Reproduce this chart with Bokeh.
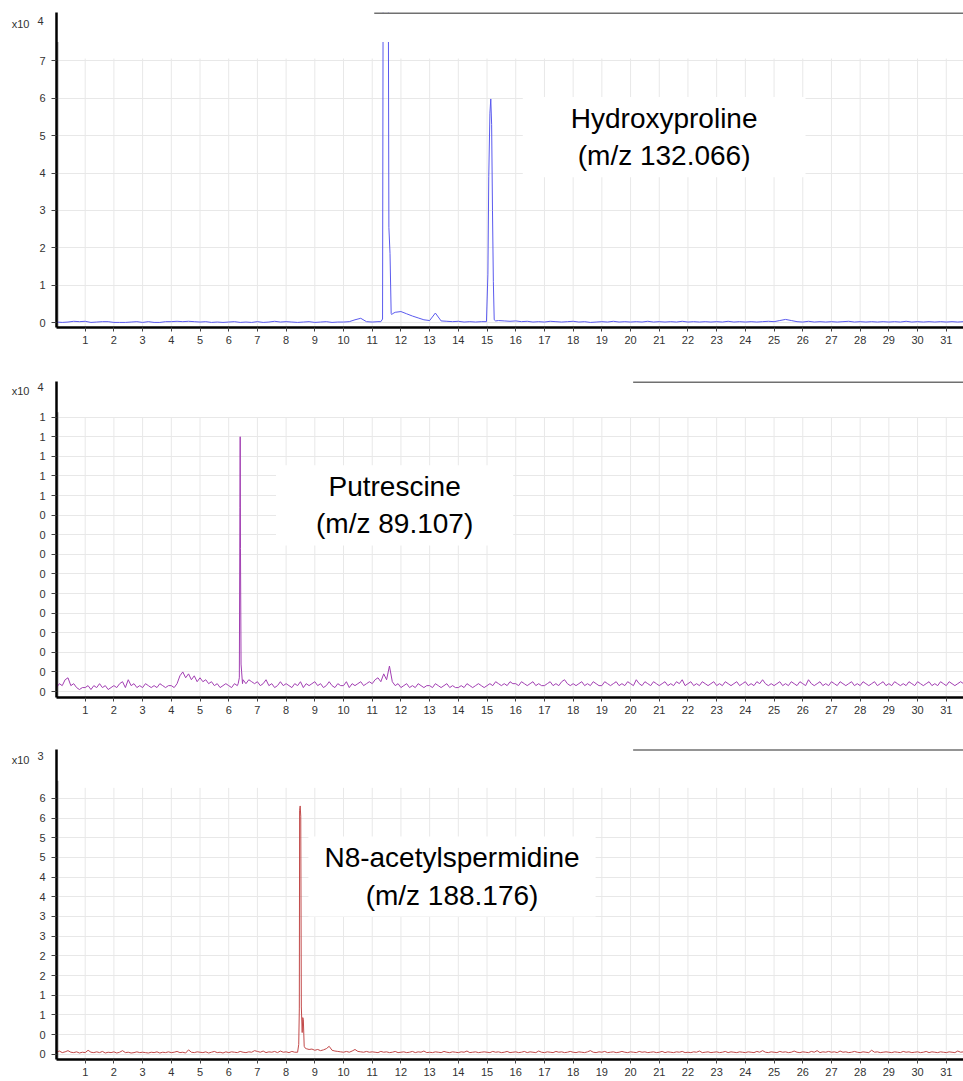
import numpy as np
from bokeh.plotting import figure
from bokeh.layouts import column
from bokeh.models import (Range1d, FixedTicker, Label, BoxAnnotation, CustomJSTickFormatter,
                          LinearAxis)
from bokeh.embed import file_html
from bokeh.resources import INLINE

FONT = "Liberation Sans"

# ---------------- data ----------------
x_ticks = list(range(1, 32))
x_tick_labels = [str(i) for i in x_ticks]

# panel 1 : Hydroxyproline (x10^4)
p1_y_ticks = [0, 1, 2, 3, 4, 5, 6, 7]
p1_y_labels = ["0", "1", "2", "3", "4", "5", "6", "7"]
p1_step = 0.2
p1_base = [
    0.02, 0.01, 0.02, 0.04, 0.03,
    0.04, 0.01, 0.02, 0.03, 0.03,
    0.01, 0.01, 0.01, 0.02, 0.03,
    0.01, 0.03, 0.01, 0.01, 0.03,
    0.03, 0.04, 0.03, 0.04, 0.03,
    0.02, 0.03, 0.01, 0.02, 0.01,
    0.02, 0.03, 0.01, 0.02, 0.01,
    0.03, 0.01, 0.02, 0.04, 0.02,
    0.03, 0.02, 0.01, 0.02, 0.03,
    0.01, 0.02, 0.03, 0.01, 0.02,
    0.02, 0.03, 0.08, 0.12, 0.03,
    0.02, 0.03, 0.03, 0.20, 0.28,
    0.30, 0.24, 0.18, 0.13, 0.08,
    0.06, 0.26, 0.05, 0.04, 0.03,
    0.04, 0.02, 0.03, 0.02, 0.03,
    0.04, 0.03, 0.06, 0.05, 0.04,
    0.05, 0.03, 0.04, 0.02, 0.03,
    0.02, 0.04, 0.03, 0.02, 0.03,
    0.04, 0.02, 0.03, 0.01, 0.02,
    0.03, 0.02, 0.04, 0.02, 0.03,
    0.02, 0.03, 0.02, 0.04, 0.02,
    0.03, 0.02, 0.03, 0.02, 0.04,
    0.02, 0.03, 0.02, 0.03, 0.02,
    0.03, 0.02, 0.04, 0.02, 0.03,
    0.02, 0.03, 0.02, 0.03, 0.04,
    0.03, 0.06, 0.09, 0.06, 0.03,
    0.02, 0.04, 0.02, 0.03, 0.02,
    0.03, 0.02, 0.03, 0.04, 0.02,
    0.03, 0.02, 0.03, 0.02, 0.03,
    0.02, 0.03, 0.02, 0.04, 0.02,
    0.03, 0.02, 0.03, 0.02, 0.03,
    0.02, 0.03, 0.02, 0.03,
]
p1_peakA_t = [11.30, 11.36, 11.38, 11.47, 11.56, 11.58, 11.62, 11.66, 11.68, 11.70]
p1_peakA_v = [0.03, 0.10, 9.0, 12.0, 9.0, 2.55, 1.85, 0.25, 0.22, 0.24]
p1_peakB_t = [14.98, 15.03, 15.06, 15.10, 15.13, 15.16, 15.19, 15.22, 15.25, 15.30]
p1_peakB_v = [0.03, 1.30, 3.90, 5.60, 5.98, 5.30, 3.00, 1.10, 0.08, 0.05]

# panel 2 : Putrescine (x10^4)
p2_y_ticks = [0.0, 0.1, 0.2, 0.3, 0.4, 0.5, 0.6, 0.7, 0.8, 0.9, 1.0, 1.1, 1.2, 1.3, 1.4]
p2_y_labels = ["0", "0", "0", "0", "0", "0", "0", "0", "0", "0", "1", "1", "1", "1", "1"]
p2_step = 0.1
p2_base = [
    0.02, 0.04, 0.03, 0.06, 0.07, 0.03, 0.04, 0.02, 0.01, 0.02,
    0.02, 0.03, 0.01, 0.03, 0.02, 0.04, 0.02, 0.03, 0.01, 0.02,
    0.03, 0.02, 0.04, 0.05, 0.02, 0.06, 0.03, 0.04, 0.02, 0.03,
    0.02, 0.04, 0.03, 0.02, 0.03, 0.02, 0.04, 0.03, 0.02, 0.03,
    0.03, 0.02, 0.04, 0.08, 0.10, 0.07, 0.09, 0.06, 0.08, 0.05,
    0.07, 0.05, 0.06, 0.04, 0.05, 0.03, 0.04, 0.02, 0.03, 0.04,
    0.03, 0.02, 0.04, 0.03, 0.05, 0.06, 0.04, 0.06, 0.05, 0.04,
    0.05, 0.03, 0.04, 0.06, 0.03, 0.04, 0.02, 0.03, 0.05, 0.03,
    0.04, 0.03, 0.02, 0.04, 0.03, 0.05, 0.02, 0.04, 0.03, 0.04,
    0.05, 0.03, 0.04, 0.02, 0.03, 0.05, 0.03, 0.02, 0.04, 0.03,
    0.03, 0.05, 0.02, 0.04, 0.03, 0.04, 0.05, 0.03, 0.04, 0.05,
    0.04, 0.06, 0.07, 0.05, 0.09, 0.06, 0.13, 0.05, 0.03, 0.04,
    0.02, 0.03, 0.04, 0.02, 0.03, 0.02, 0.04, 0.03, 0.02, 0.03,
    0.03, 0.02, 0.04, 0.03, 0.02, 0.03, 0.04, 0.02, 0.03, 0.02,
    0.02, 0.03, 0.02, 0.04, 0.03, 0.02, 0.03, 0.04, 0.03, 0.02,
    0.03, 0.04, 0.03, 0.05, 0.04, 0.03, 0.04, 0.03, 0.05, 0.04,
    0.04, 0.03, 0.05, 0.04, 0.03, 0.04, 0.05, 0.03, 0.04, 0.03,
    0.03, 0.04, 0.05, 0.03, 0.04, 0.03, 0.05, 0.06, 0.04, 0.03,
    0.04, 0.03, 0.04, 0.05, 0.03, 0.04, 0.03, 0.05, 0.04, 0.03,
    0.03, 0.05, 0.04, 0.03, 0.04, 0.05, 0.03, 0.04, 0.03, 0.05,
    0.04, 0.03, 0.06, 0.04, 0.03, 0.05, 0.04, 0.03, 0.05, 0.04,
    0.03, 0.04, 0.05, 0.03, 0.04, 0.03, 0.05, 0.04, 0.06, 0.03,
    0.04, 0.05, 0.03, 0.04, 0.03, 0.05, 0.04, 0.03, 0.04, 0.05,
    0.03, 0.04, 0.03, 0.05, 0.04, 0.03, 0.04, 0.05, 0.03, 0.04,
    0.05, 0.03, 0.04, 0.03, 0.05, 0.04, 0.06, 0.04, 0.03, 0.04,
    0.03, 0.04, 0.05, 0.03, 0.04, 0.03, 0.05, 0.04, 0.03, 0.05,
    0.04, 0.03, 0.06, 0.04, 0.03, 0.04, 0.05, 0.03, 0.04, 0.03,
    0.05, 0.04, 0.03, 0.05, 0.04, 0.03, 0.04, 0.05, 0.03, 0.04,
    0.03, 0.05, 0.04, 0.03, 0.04, 0.05, 0.03, 0.04, 0.05, 0.03,
    0.04, 0.03, 0.05, 0.04, 0.03, 0.04, 0.03, 0.05, 0.04, 0.03,
    0.05, 0.04, 0.03, 0.04, 0.05, 0.03, 0.04, 0.03, 0.05, 0.04,
    0.03, 0.05, 0.04, 0.03, 0.04, 0.05, 0.04,
]
p2_peak_t = [6.33, 6.37, 6.39, 6.40, 6.41, 6.43, 6.45, 6.48]
p2_peak_v = [0.04, 0.07, 0.94, 1.30, 0.73, 0.14, 0.10, 0.04]

# panel 3 : N8-acetylspermidine (x10^3)
p3_y_ticks = [0.0, 0.5, 1.0, 1.5, 2.0, 2.5, 3.0, 3.5, 4.0, 4.5, 5.0, 5.5, 6.0, 6.5]
p3_y_labels = ["0", "0", "1", "1", "2", "2", "3", "3", "4", "4", "5", "5", "6", "6"]
p3_step = 0.1
p3_base = [
    0.05, 0.08, 0.04, 0.06, 0.09, 0.05, 0.04, 0.06, 0.03, 0.05,
    0.04, 0.10, 0.05, 0.04, 0.06, 0.04, 0.07, 0.03, 0.05, 0.04,
    0.06, 0.03, 0.05, 0.09, 0.04, 0.05, 0.03, 0.04, 0.06, 0.04,
    0.05, 0.04, 0.03, 0.05, 0.04, 0.06, 0.03, 0.05, 0.04, 0.06,
    0.04, 0.05, 0.07, 0.04, 0.05, 0.03, 0.11, 0.05, 0.04, 0.06,
    0.05, 0.04, 0.06, 0.03, 0.05, 0.07, 0.04, 0.05, 0.03, 0.06,
    0.04, 0.06, 0.05, 0.04, 0.07, 0.05, 0.04, 0.06, 0.05, 0.09,
    0.07, 0.05, 0.08, 0.04, 0.06, 0.05, 0.07, 0.04, 0.08, 0.05,
    0.06, 0.04, 0.07, 0.05, 0.05, 0.06, 0.06, 0.14, 0.12, 0.13,
    0.10, 0.12, 0.09, 0.11, 0.14, 0.20, 0.10, 0.08, 0.07, 0.06,
    0.05, 0.07, 0.05, 0.08, 0.12, 0.07, 0.06, 0.05, 0.07, 0.05,
    0.06, 0.05, 0.04, 0.07, 0.05, 0.06, 0.04, 0.05, 0.07, 0.04,
    0.05, 0.06, 0.04, 0.05, 0.07, 0.04, 0.06, 0.05, 0.08, 0.04,
    0.05, 0.04, 0.06, 0.05, 0.04, 0.07, 0.05, 0.04, 0.06, 0.05,
    0.04, 0.06, 0.05, 0.08, 0.04, 0.05, 0.06, 0.04, 0.05, 0.06,
    0.05, 0.04, 0.07, 0.05, 0.06, 0.04, 0.05, 0.07, 0.04, 0.05,
    0.06, 0.04, 0.05, 0.07, 0.04, 0.06, 0.05, 0.04, 0.08, 0.05,
    0.04, 0.06, 0.05, 0.04, 0.07, 0.05, 0.06, 0.04, 0.05, 0.07,
    0.05, 0.04, 0.06, 0.05, 0.04, 0.06, 0.09, 0.05, 0.04, 0.06,
    0.05, 0.07, 0.04, 0.05, 0.06, 0.04, 0.05, 0.07, 0.05, 0.04,
    0.06, 0.05, 0.04, 0.07, 0.05, 0.06, 0.04, 0.05, 0.06, 0.04,
    0.05, 0.07, 0.04, 0.06, 0.05, 0.04, 0.06, 0.05, 0.07, 0.04,
    0.05, 0.04, 0.06, 0.05, 0.08, 0.04, 0.05, 0.06, 0.04, 0.05,
    0.06, 0.04, 0.05, 0.07, 0.04, 0.06, 0.05, 0.04, 0.06, 0.05,
    0.04, 0.06, 0.05, 0.04, 0.07, 0.05, 0.09, 0.05, 0.04, 0.06,
    0.05, 0.04, 0.07, 0.05, 0.06, 0.04, 0.05, 0.08, 0.05, 0.04,
    0.06, 0.05, 0.04, 0.07, 0.05, 0.09, 0.04, 0.06, 0.05, 0.07,
    0.05, 0.06, 0.04, 0.08, 0.05, 0.06, 0.04, 0.05, 0.07, 0.05,
    0.04, 0.06, 0.05, 0.04, 0.10, 0.05, 0.06, 0.04, 0.05, 0.06,
    0.05, 0.04, 0.06, 0.05, 0.04, 0.07, 0.05, 0.06, 0.04, 0.05,
    0.06, 0.04, 0.05, 0.07, 0.04, 0.06, 0.05, 0.04, 0.06, 0.05,
    0.04, 0.06, 0.05, 0.04, 0.08, 0.05, 0.06,
]
p3_peak_t = [8.40, 8.44, 8.46, 8.47, 8.49, 8.51, 8.53, 8.56, 8.58, 8.60, 8.63, 8.67]
p3_peak_v = [0.05, 0.25, 1.15, 6.20, 6.31, 6.05, 1.20, 0.55, 0.93, 0.88, 0.20, 0.15]

compounds = ["Hydroxyproline\n(m/z 132.066)", "Putrescine\n(m/z 89.107)", "N8-acetylspermidine\n(m/z 188.176)"]
exp_base = "x10"
exponents = ["4", "4", "3"]
colors = ["#5a5aee", "#a23fb2", "#c24a4a"]


def build_trace(step, base, peaks):
    t = np.round(np.arange(len(base)) * step, 3)
    v = np.asarray(base, dtype=float)
    keep = np.ones(len(t), dtype=bool)
    for pt, _ in peaks:
        keep &= (t < pt[0]) | (t > pt[-1])
    T = np.concatenate([t[keep]] + [np.asarray(pt, float) for pt, _ in peaks])
    V = np.concatenate([v[keep]] + [np.asarray(pv, float) for _, pv in peaks])
    order = np.argsort(T, kind="stable")
    return T[order], V[order]


X_END = 31.6


def text_axis(p, y, text, standoff):
    ax = LinearAxis(ticker=FixedTicker(ticks=[y]),
                    formatter=CustomJSTickFormatter(args=dict(t=text), code="return t;"),
                    axis_line_color=None, major_tick_line_color=None,
                    minor_tick_line_color=None, major_tick_in=0, major_tick_out=0,
                    major_label_standoff=standoff, major_label_text_font=FONT,
                    major_label_text_font_size="11px", major_label_text_color="#333333")
    p.add_layout(ax, "left")


def make_panel(height, b_top, b_bottom, y_start, y_end, y_ticks, y_labels, grid_top,
               data_top, trace, color, exponent, exp_y, topline_x0, label_text, label_xy,
               label_pad):
    p = figure(width=963, height=height, x_range=Range1d(0, X_END),
               y_range=Range1d(y_start, y_end), output_backend="svg",
               toolbar_location=None, min_border_left=56, min_border_right=0,
               min_border_top=b_top, min_border_bottom=b_bottom)
    p.outline_line_color = None
    p.background_fill_color = "white"
    p.border_fill_color = "white"

    p.xaxis.ticker = FixedTicker(ticks=x_ticks)
    p.xaxis.formatter = CustomJSTickFormatter(args=dict(labels=x_tick_labels),
                                              code="return labels[index];")
    p.yaxis.ticker = FixedTicker(ticks=y_ticks)
    p.yaxis.formatter = CustomJSTickFormatter(args=dict(labels=y_labels),
                                              code="return labels[index];")
    for ax in (p.xaxis[0], p.yaxis[0]):
        ax.axis_line_color = "black"
        ax.axis_line_width = 2.5
        ax.major_tick_line_color = "#444444"
        ax.major_tick_in = 0
        ax.minor_tick_line_color = None
        ax.major_label_text_font = FONT
        ax.major_label_text_font_size = "11px"
        ax.major_label_text_color = "#333333"
    p.xaxis.major_tick_out = 4
    p.xaxis.major_label_standoff = 4
    p.yaxis.major_tick_out = 5
    p.yaxis.major_label_standoff = 6

    # exponent marker ("x10" with raised power) left of the axis
    text_axis(p, exp_y + (y_end - y_start) * 0.012, exponent, -7)
    text_axis(p, exp_y, exp_base, 5)

    p.xgrid.visible = False
    p.ygrid.ticker = FixedTicker(ticks=y_ticks)
    p.ygrid.grid_line_color = "#e8e8e8"
    p.ygrid.grid_line_width = 1

    # vertical grid lines only up to the grid top
    p.segment(x0=x_ticks, y0=[y_start] * len(x_ticks), x1=x_ticks,
              y1=[grid_top] * len(x_ticks), line_color="#e8e8e8", line_width=1,
              level="underlay")

    # gray inner edge of the data area
    p.segment(x0=[0.035], y0=[y_start], x1=[0.035], y1=[data_top],
              line_color="#a0a0a0", line_width=2)

    t, v = trace
    p.line(t, v, line_color=color, line_width=1)

    # top rule
    p.line(x=[topline_x0, X_END], y=[y_end - (y_end - y_start) * 0.002] * 2,
           line_color="#707070", line_width=1.5, level="overlay")

    p.add_layout(Label(x=label_xy[0], y=label_xy[1], text=label_text, text_font=FONT,
                       text_font_size="28px", text_color="black",
                       text_align="center", text_baseline="middle",
                       background_fill_color="white", padding=label_pad))
    return p


tr1 = build_trace(p1_step, p1_base, [(p1_peakA_t, p1_peakA_v), (p1_peakB_t, p1_peakB_v)])
tr2 = build_trace(p2_step, p2_base, [(p2_peak_t, p2_peak_v)])
tr3 = build_trace(p3_step, p3_base, [(p3_peak_t, p3_peak_v)])

# label padding is (horizontal, vertical)
f1 = make_panel(377, 12, 50, -0.126, 8.29, p1_y_ticks, p1_y_labels, 7.06, 7.5, tr1,
                colors[0], exponents[0], 7.97, 11.07, compounds[0], (21.17, 4.96), (48, 6))
# the saturated peak is cut at the top of the data area
f1.add_layout(BoxAnnotation(left=11.2, right=11.9, bottom=7.5, top=8.29,
                            fill_color="white", fill_alpha=1.0, line_alpha=0))

f2 = make_panel(367, 4, 47, -0.0306, 1.582, p2_y_ticks, p2_y_labels, 1.4, 1.425, tr2,
                colors[1], exponents[1], 1.533, 20.09, compounds[1], (11.78, 0.95), (40, 6))
f3 = make_panel(337, 5, 22, -0.135, 7.745, p3_y_ticks, p3_y_labels, 6.77, 6.95, tr3,
                colors[2], exponents[2], 7.483, 20.09, compounds[2], (13.78, 4.517), (16, 6))

layout = column(f1, f2, f3, spacing=0)

html = file_html(layout, INLINE,
                 template="{% block preamble %}<style>html,body{overflow:hidden;}</style>{% endblock %}")
open("out.html", "w").write(html)
